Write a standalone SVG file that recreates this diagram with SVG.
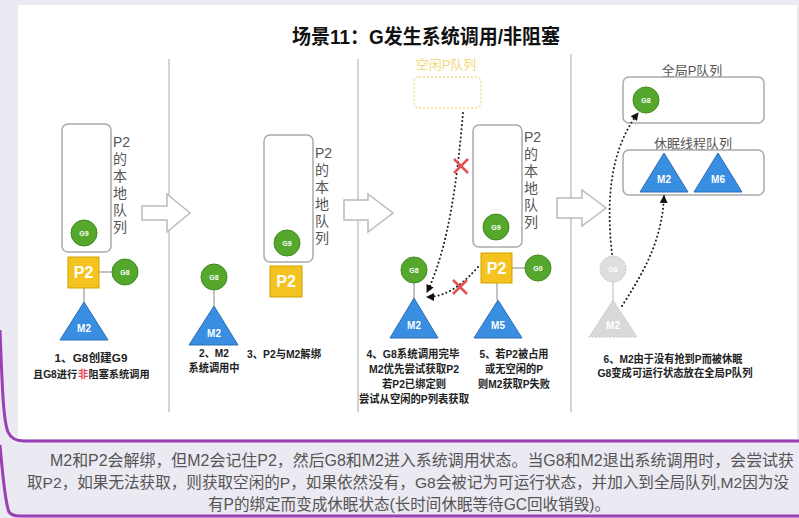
<svg xmlns="http://www.w3.org/2000/svg" width="799" height="518" viewBox="0 0 799 518">
<defs>
<style>
text{font-family:"Liberation Sans","Noto Sans CJK SC",sans-serif}
.qbox{fill:none;stroke:#aaa;stroke-width:1.5}
.div{stroke:#c4c4c4;stroke-width:1.5}
.g{fill:#55a82c;stroke:#3e8a1e;stroke-width:1}
.gl{fill:#fff;font-size:7px;font-weight:bold;text-anchor:middle}
.p{fill:#f5c31f;stroke:#cfa300;stroke-width:1}
.pl{fill:#fff;font-size:16px;font-weight:bold;text-anchor:middle}
.m{fill:#3a8ee2;stroke:#2a6fb8;stroke-width:1}
.ml{fill:#fff;font-size:10px;font-weight:bold;text-anchor:middle}
.link{stroke:#999;stroke-width:1.2}
.vt{font-size:14px;fill:#555}
.cap{font-size:11px;font-weight:bold;fill:#222;text-anchor:middle}
.caps{font-size:10.2px;font-weight:bold;fill:#222}
.red{fill:#e8455a}
.dot{fill:none;stroke:#222;stroke-width:2;stroke-dasharray:0.1 4;stroke-linecap:round}
.x{stroke:#e35252;stroke-width:2.5}
.harrow{fill:#fff;stroke:#bbb;stroke-width:1.5}
.purple{fill:none;stroke:#9a3fb6;stroke-width:3}
.note{font-size:16px;fill:#555}
.qt{font-size:13px;fill:#555;text-anchor:middle}
</style>
<marker id="ah" viewBox="0 0 8 8" refX="7" refY="4" markerWidth="8" markerHeight="8" markerUnits="userSpaceOnUse" orient="auto">
<path d="M0,0 L8,4 L0,8 z" fill="#111"/>
</marker>
</defs>

<rect x="0" y="0" width="799" height="518" fill="#ebe9f1"/>
<rect x="18" y="5" width="779" height="434" fill="#fff"/>

<text x="426" y="44" font-size="20" font-weight="bold" fill="#111" text-anchor="middle" textLength="268" lengthAdjust="spacingAndGlyphs">场景11：G发生系统调用/非阻塞</text>

<g id="dividers">
<line class="div" x1="169" y1="59" x2="169" y2="412"/>
<line class="div" x1="358" y1="59" x2="358" y2="412"/>
<line class="div" x1="571" y1="54" x2="571" y2="412"/>
</g>

<g id="step-arrows">
<path class="harrow" d="M142,206 L167,206 L167,194 L190,213 L167,232 L167,220 L142,220 z"/>
<path class="harrow" d="M344,200 L368,200 L368,194 L393,213 L368,232 L368,220 L344,220 z"/>
<path class="harrow" d="M557,198 L582,198 L582,190 L606,208 L582,226 L582,218 L557,218 z"/>
</g>

<!-- Panel 1 -->
<g id="p1-queue">
<rect class="qbox" x="62" y="124" width="49" height="128" rx="6"/>
<text class="vt"><tspan x="113" y="147">P2</tspan><tspan x="113" y="164">的</tspan><tspan x="113" y="181">本</tspan><tspan x="113" y="198">地</tspan><tspan x="113" y="215">队</tspan><tspan x="113" y="232">列</tspan></text>
</g>
<g id="p1-g9"><circle class="g" cx="84" cy="233" r="13"/><text class="gl" x="84" y="235.5">G9</text></g>
<g id="p1-links">
<line class="link" x1="99" y1="272" x2="112" y2="272"/>
<line class="link" x1="84" y1="288" x2="84" y2="302"/>
</g>
<g id="p1-p2"><rect class="p" x="68" y="257" width="31" height="31"/><text class="pl" x="83.5" y="278">P2</text></g>
<g id="p1-g8"><circle class="g" cx="125" cy="272" r="13"/><text class="gl" x="125" y="274.5">G8</text></g>
<g id="p1-m2"><path class="m" d="M84,302 L108,340 L60,340 z"/><text class="ml" x="84" y="332">M2</text></g>
<g id="p1-caption">
<text class="cap" x="91" y="362" textLength="73" lengthAdjust="spacingAndGlyphs">1、G8创建G9</text>
<text class="caps" x="33" y="378">且G8进行</text>
<text class="caps red" x="78" y="378">非</text>
<text class="caps" x="88.5" y="378">阻塞系统调用</text>
</g>

<!-- Panel 2 -->
<g id="p2-g8"><circle class="g" cx="214" cy="277" r="13"/><text class="gl" x="214" y="279.5">G8</text></g>
<line class="link" x1="214" y1="290" x2="214" y2="306"/>
<g id="p2-m2"><path class="m" d="M214,306 L238,345 L189,345 z"/><text class="ml" x="214" y="337">M2</text></g>
<g id="p2-caption">
<text class="cap" x="214" y="357" textLength="30" lengthAdjust="spacingAndGlyphs">2、M2</text>
<text class="cap" x="214" y="372" textLength="51" lengthAdjust="spacingAndGlyphs">系统调用中</text>
</g>
<g id="p3-queue">
<rect class="qbox" x="264" y="135" width="49" height="127" rx="6"/>
<text class="vt"><tspan x="315" y="158">P2</tspan><tspan x="315" y="175">的</tspan><tspan x="315" y="192">本</tspan><tspan x="315" y="209">地</tspan><tspan x="315" y="226">队</tspan><tspan x="315" y="243">列</tspan></text>
</g>
<g id="p3-g9"><circle class="g" cx="287" cy="243" r="13"/><text class="gl" x="287" y="245.5">G9</text></g>
<g id="p3-p2"><rect class="p" x="270" y="266" width="32" height="31"/><text class="pl" x="286" y="287">P2</text></g>
<text class="cap" x="284" y="358" textLength="74" lengthAdjust="spacingAndGlyphs">3、P2与M2解绑</text>

<!-- Panel 3 -->
<g id="idle-p-queue">
<text x="446" y="69" font-size="13" fill="#f1d97a" text-anchor="middle">空闲P队列</text>
<rect x="414" y="77" width="67" height="31" rx="5" fill="none" stroke="#f3dd86" stroke-width="1.5" stroke-dasharray="2 2"/>
</g>
<g id="p4-queue">
<rect class="qbox" x="473" y="125" width="49" height="122" rx="6"/>
<text class="vt"><tspan x="524" y="142">P2</tspan><tspan x="524" y="159">的</tspan><tspan x="524" y="176">本</tspan><tspan x="524" y="193">地</tspan><tspan x="524" y="210">队</tspan><tspan x="524" y="227">列</tspan></text>
</g>
<g id="p4-g9"><circle class="g" cx="496" cy="227" r="13"/><text class="gl" x="496" y="229.5">G9</text></g>
<g id="p4-links">
<line class="link" x1="512" y1="268" x2="525" y2="268"/>
<line class="link" x1="497" y1="283" x2="497" y2="300"/>
<line class="link" x1="414" y1="283" x2="414" y2="298"/>
</g>
<g id="p4-p2"><rect class="p" x="481" y="253" width="31" height="30"/><text class="pl" x="496.5" y="274">P2</text></g>
<g id="p4-g0"><circle class="g" cx="538" cy="268" r="13"/><text class="gl" x="538" y="270.5">G0</text></g>
<g id="p4-m5"><path class="m" d="M498,300 L522,338 L474,338 z"/><text class="ml" x="498" y="329">M5</text></g>
<g id="p4-g8"><circle class="g" cx="414" cy="270" r="13"/><text class="gl" x="414" y="272.5">G8</text></g>
<g id="p4-m2"><path class="m" d="M414,298 L438,338 L390,338 z"/><text class="ml" x="414" y="329">M2</text></g>
<g id="p4-caption4">
<text class="cap" x="413" y="358" textLength="93" lengthAdjust="spacingAndGlyphs">4、G8系统调用完毕</text>
<text class="cap" x="414" y="373" textLength="90" lengthAdjust="spacingAndGlyphs">M2优先尝试获取P2</text>
<text class="cap" x="414" y="388" textLength="64" lengthAdjust="spacingAndGlyphs">若P2已绑定则</text>
<text class="cap" x="414" y="403" textLength="110" lengthAdjust="spacingAndGlyphs">尝试从空闲的P列表获取</text>
</g>
<g id="p4-caption5">
<text class="cap" x="514" y="358" textLength="69" lengthAdjust="spacingAndGlyphs">5、若P2被占用</text>
<text class="cap" x="514" y="373" textLength="58" lengthAdjust="spacingAndGlyphs">或无空闲的P</text>
<text class="cap" x="514" y="388" textLength="72" lengthAdjust="spacingAndGlyphs">则M2获取P失败</text>
</g>

<!-- Panel 4 -->
<g id="global-queue">
<text class="qt" x="692" y="75">全局P队列</text>
<rect class="qbox" x="623" y="77" width="141" height="46" rx="6"/>
</g>
<g id="global-g8"><circle class="g" cx="646" cy="100" r="13"/><text class="gl" x="646" y="102.5">G8</text></g>
<g id="sleep-queue">
<text class="qt" x="693" y="148">休眠线程队列</text>
<rect class="qbox" x="623" y="150" width="141" height="45" rx="6"/>
</g>
<g id="sleep-m2"><path class="m" d="M664,153 L688,192 L640,192 z"/><text class="ml" x="664" y="183">M2</text></g>
<g id="sleep-m6"><path class="m" d="M718,153 L742,192 L694,192 z"/><text class="ml" x="718" y="183">M6</text></g>
<g id="ghost-g8"><circle cx="613" cy="269" r="13" fill="#dedede" stroke="#c4c4c4" stroke-width="1" stroke-dasharray="2 1.5"/><text class="gl" x="613" y="271.5" fill="#f4f4f4">G8</text></g>
<line x1="613" y1="282" x2="613" y2="300" stroke="#cfcfcf" stroke-width="1.5"/>
<g id="ghost-m2"><path d="M613,300 L637,337 L589,337 z" fill="#d9d9d9" stroke="#c4c4c4" stroke-width="1" stroke-dasharray="2 1.5"/><text class="ml" x="613" y="329" fill="#f4f4f4">M2</text></g>
<g id="p6-caption">
<text class="cap" x="673" y="363" textLength="139" lengthAdjust="spacingAndGlyphs">6、M2由于没有抢到P而被休眠</text>
<text class="cap" x="675" y="377" textLength="155" lengthAdjust="spacingAndGlyphs">G8变成可运行状态放在全局P队列</text>
</g>

<g id="connectors">
<path class="dot" d="M463,113 C458,170 450,245 427,292" marker-end="url(#ah)"/>
<path class="dot" d="M478,267 C462,285 446,297 427,297" marker-end="url(#ah)"/>
<path class="dot" d="M612,254 C606,200 610,150 638,113" marker-end="url(#ah)"/>
<path class="dot" d="M622,306 C645,270 662,240 664,196" marker-end="url(#ah)"/>
<g id="blocked-marks">
<path class="x" d="M454,159 L468,173 M468,159 L454,173"/>
<path class="x" d="M453,280 L467,294 M467,280 L453,294"/>
</g>
</g>

<g id="frame">
<path class="purple" d="M0,330 C2,380 3,420 8,432 Q12,441 24,441 L799,441"/>
<path class="purple" d="M0,445 C3,480 6,505 9,512 Q12,516 20,516 L799,516"/>
</g>

<g id="note">
<text class="note" x="50" y="466" textLength="744" lengthAdjust="spacingAndGlyphs">M2和P2会解绑，但M2会记住P2，然后G8和M2进入系统调用状态。当G8和M2退出系统调用时，会尝试获</text>
<text class="note" x="27" y="488" font-size="15.5" style="font-size:15.5px" textLength="762" lengthAdjust="spacingAndGlyphs">取P2，如果无法获取，则获取空闲的P，如果依然没有，G8会被记为可运行状态，并加入到全局队列,M2因为没</text>
<text class="note" x="208" y="510" textLength="402" lengthAdjust="spacingAndGlyphs">有P的绑定而变成休眠状态(长时间休眠等待GC回收销毁)。</text>
</g>
</svg>
